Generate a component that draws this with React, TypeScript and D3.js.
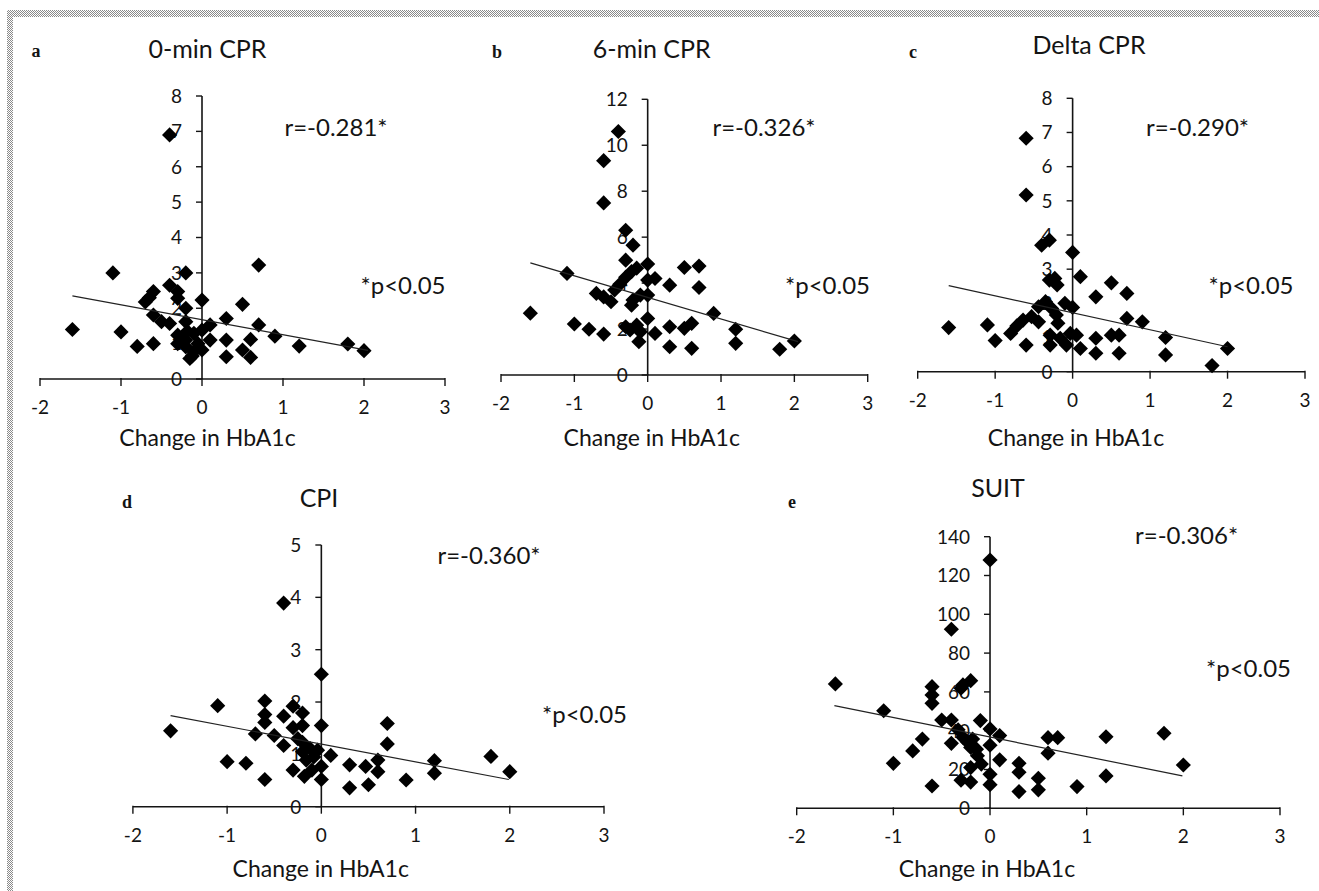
import React from 'react';
import * as d3 from 'd3';

// ---------- data ----------
const xTickValues = [-2, -1, 0, 1, 2, 3];
const xAxisTitle = 'Change in HbA1c';
const panelLetters = ['a', 'b', 'c', 'd', 'e'];
const panelTitles = ['0-min CPR', '6-min CPR', 'Delta CPR', 'CPI', 'SUIT'];
const rLabels = ['r=-0.281*', 'r=-0.326*', 'r=-0.290*', 'r=-0.360*', 'r=-0.306*'];
const pLabel = '*p<0.05';
const yMaxes = [8, 12, 8, 5, 140];
const ySteps = [1, 2, 1, 1, 20];

// panel a: 0-min CPR
const cpr0X = [-1.6, -1.1, -1.0, -0.8, -0.6, -0.6, -0.7, -0.6, -0.5, -0.4, -0.4, -0.4, -0.3, -0.3, -0.2, -0.2, -0.2, -0.3, -0.1, 0, 0, 0.1, 0.1, 0.3, 0.3, 0.3, 0.5, 0.5, 0.6, 0.6, 0.7, 0.7, 0.9, 1.2, 1.8, 2.0, -0.2, -0.1, -0.15, 0, -0.05, -0.2, -0.3, -0.65, -0.12, -0.18];
const cpr0Y = [1.4, 3.0, 1.33, 0.92, 1.0, 2.47, 2.18, 1.81, 1.62, 1.57, 2.65, 6.9, 2.47, 2.28, 3.0, 2.0, 1.62, 1.24, 1.29, 1.38, 2.23, 1.53, 1.1, 1.71, 1.1, 0.63, 2.11, 0.82, 1.12, 0.61, 1.53, 3.22, 1.21, 0.93, 0.99, 0.8, 0.91, 0.77, 0.58, 0.82, 1.0, 1.1, 1.0, 2.3, 0.65, 1.35];
const cpr0Trend = [[-1.6, 2.35], [2.05, 0.81]];

// panel b: 6-min CPR
const cpr6X = [-1.6, -1.1, -1.0, -0.8, -0.6, -0.6, -0.6, -0.4, -0.3, -0.2, -0.3, -0.7, -0.6, -0.5, -0.45, -0.38, -0.3, -0.22, -0.15, -0.2, -0.1, 0, -0.22, 0, 0.1, 0, 0.3, 0.5, 0.7, 0.7, 0.9, 1.2, 1.2, 1.8, 2.0, -0.3, -0.15, 0, -0.1, 0.1, -0.12, -0.24, 0.3, 0.5, 0.6, 0.3, 0.6];
const cpr6Y = [2.69, 4.42, 2.22, 1.99, 1.78, 9.33, 7.49, 10.6, 6.3, 5.65, 5.0, 3.55, 3.4, 3.19, 3.7, 3.95, 4.25, 4.5, 4.65, 3.26, 3.48, 3.48, 3.04, 4.83, 4.2, 4.13, 3.91, 4.68, 4.74, 3.81, 2.68, 1.99, 1.38, 1.12, 1.48, 2.1, 2.17, 2.46, 1.88, 1.81, 1.45, 1.96, 2.1, 2.03, 2.25, 1.23, 1.16];
const cpr6Trend = [[-1.6, 4.88], [2.05, 1.45]];

// panel c: Delta CPR
const dcprX = [-1.6, -1.1, -1.0, -0.8, -0.6, -0.6, -0.6, -0.4, -0.3, 0, 0.1, -0.3, -0.2, -0.23, 0.5, 0.7, 0.3, -0.35, -0.1, 0, -0.44, -0.27, -0.64, -0.72, -0.53, -0.44, -0.21, -0.19, 0.7, 0.9, -0.29, -0.29, -0.16, -0.08, -0.03, 0.05, 0.1, 0.3, 0.3, 0.5, 0.6, 0.6, 1.2, 1.2, 1.8, 2.0];
const dcprY = [1.29, 1.37, 0.91, 1.12, 0.78, 6.83, 5.17, 3.7, 3.85, 3.49, 2.78, 2.68, 2.54, 2.73, 2.6, 2.29, 2.19, 2.05, 2.0, 1.88, 1.9, 1.85, 1.51, 1.34, 1.61, 1.46, 1.66, 1.42, 1.56, 1.46, 0.78, 1.07, 0.98, 0.78, 1.12, 1.07, 0.68, 0.98, 0.54, 1.07, 1.07, 0.54, 1.0, 0.49, 0.18, 0.68];
const dcprTrend = [[-1.6, 2.52], [2.0, 0.73]];

// panel d: CPI
const cpiX = [-1.6, -1.1, -1.0, -0.8, -0.6, -0.6, -0.6, -0.6, -0.7, -0.5, -0.4, -0.4, -0.4, -0.3, -0.2, -0.3, -0.2, -0.2, 0, 0, 0, 0, -0.3, -0.18, -0.1, -0.16, -0.12, -0.2, -0.04, 0.1, 0.3, 0.3, 0.5, 0.47, 0.6, 0.6, 0.7, 0.7, 0.9, 1.2, 1.2, 1.8, 2.0, -0.25, -0.08];
const cpiY = [1.45, 1.93, 0.86, 0.83, 0.52, 2.02, 1.76, 1.61, 1.39, 1.36, 3.89, 1.73, 1.17, 1.92, 1.79, 1.51, 1.55, 1.23, 2.53, 1.55, 0.77, 0.52, 0.7, 0.58, 0.7, 0.89, 1.11, 1.05, 1.08, 0.98, 0.8, 0.36, 0.42, 0.77, 0.89, 0.67, 1.59, 1.2, 0.51, 0.88, 0.64, 0.96, 0.67, 1.3, 0.95];
const cpiTrend = [[-1.6, 1.74], [1.99, 0.52]];

// panel e: SUIT
const suitX = [-1.6, -1.1, -1.0, -0.8, -0.7, -0.6, -0.6, -0.6, -0.6, -0.5, -0.4, -0.4, -0.4, -0.3, -0.28, -0.2, -0.33, -0.28, -0.23, -0.18, -0.14, -0.1, 0, 0.1, 0, -0.2, -0.13, -0.09, -0.2, -0.3, -0.2, 0, 0, 0, 0.1, 0.3, 0.3, 0.3, 0.5, 0.5, 0.6, 0.6, 0.7, 0.9, 1.2, 1.2, 1.8, 2.0];
const suitY = [64.1, 50.3, 23.2, 29.6, 35.7, 11.5, 62.7, 58.4, 54.1, 45.5, 92.3, 45.5, 33.5, 61.9, 63.6, 65.8, 40.5, 36.6, 34.0, 35.7, 30.5, 45.2, 40.9, 37.5, 32.5, 31.4, 27.1, 22.8, 21.0, 14.5, 13.5, 17.5, 12.2, 128, 25.0, 23.2, 18.6, 8.6, 15.5, 9.5, 36.4, 28.4, 36.4, 11.2, 36.9, 16.7, 38.7, 22.3];
const suitTrend = [[-1.61, 52.9], [1.99, 16.7]];

const seriesX = [cpr0X, cpr6X, dcprX, cpiX, suitX];
const seriesY = [cpr0Y, cpr6Y, dcprY, cpiY, suitY];
const trends = [cpr0Trend, cpr6Trend, dcprTrend, cpiTrend, suitTrend];

// ---------- layout ----------
const layout = [
  { x0: 40, x1: 445, yB: 379, yT: 96, tX: 207.5, tY: 58, lX: 36, lY: 57, rX: 336, rY: 136, pX: 403, pY: 294, xtX: 207.5, xtY: 446 },
  { x0: 501, x1: 867.7, yB: 375, yT: 99.3, tX: 651.7, tY: 58, lX: 497, lY: 58, rX: 764, rY: 136, pX: 827.5, pY: 294, xtX: 651.7, xtY: 446 },
  { x0: 917.7, x1: 1305, yB: 371.7, yT: 98.3, tX: 1089, tY: 54, lX: 913, lY: 58, rX: 1197.5, rY: 136, pX: 1251, pY: 294, xtX: 1076, xtY: 446 },
  { x0: 132.9, x1: 604, yB: 806.7, yT: 545, tX: 319, tY: 507, lX: 127, lY: 508, rX: 489, rY: 564, pX: 584.5, pY: 723, xtX: 320.7, xtY: 877 },
  { x0: 796.7, x1: 1280, yB: 808.3, yT: 536.7, tX: 998, tY: 497, lX: 792, lY: 508, rX: 1186.6, rY: 544, pX: 1248.5, pY: 677, xtX: 987, xtY: 877 },
];

const FONT = 'Lato, "Open Sans", sans-serif';
const INK = '#141414';

const diamond = d3.symbol().type(d3.symbolSquare).size(115)();

function Panel({ i }: { i: number }) {
  const L = layout[i];
  const x = d3.scaleLinear().domain([-2, 3]).range([L.x0, L.x1]);
  const y = d3.scaleLinear().domain([0, yMaxes[i]]).range([L.yB, L.yT]);
  const yTicks = d3.range(0, yMaxes[i] + ySteps[i] / 2, ySteps[i]);
  const ax = x(0);
  const ay = y(0);
  const line = d3.line<number[]>().x((d) => x(d[0])).y((d) => y(d[1]));
  const pts = seriesX[i].map((v, k) => [v, seriesY[i][k]]);
  return (
    <g>
      <text x={L.lX} y={L.lY} fontFamily='"Liberation Serif", serif' fontWeight="bold" fontSize={18} fill={INK} textAnchor="middle">{panelLetters[i]}</text>
      <text x={L.tX} y={L.tY} fontFamily={FONT} fontSize={25} fill={INK} textAnchor="middle">{panelTitles[i]}</text>
      {/* axes */}
      <line x1={x(-2)} x2={x(3)} y1={ay} y2={ay} stroke={INK} strokeWidth={1.6} />
      {xTickValues.map((t) => (
        <g key={'xt' + t}>
          <line x1={x(t)} x2={x(t)} y1={ay - 1} y2={ay + 7} stroke={INK} strokeWidth={1.4} />
          <text x={x(t)} y={ay + 35} fontFamily={FONT} fontSize={19} fill={INK} textAnchor="middle">{t < 0 ? '-' + Math.abs(t) : String(t)}</text>
        </g>
      ))}
      <line x1={ax} x2={ax} y1={ay} y2={y(yMaxes[i])} stroke={INK} strokeWidth={1.6} />
      {yTicks.map((t) => (
        <g key={'yt' + t}>
          <line x1={ax - 6} x2={ax} y1={y(t)} y2={y(t)} stroke={INK} strokeWidth={1.4} />
          <text x={ax - 20} y={y(t)} dy="0.36em" fontFamily={FONT} fontSize={19} fill={INK} textAnchor="end">{String(t)}</text>
        </g>
      ))}
      {/* points */}
      {pts.map((p, k) => (
        <path key={k} d={diamond} transform={`translate(${x(p[0])},${y(p[1])}) rotate(45)`} fill="#000" />
      ))}
      {/* trend line */}
      <path d={line(trends[i]) || ''} stroke="#222" strokeWidth={1.2} fill="none" />
      <text x={L.rX} y={L.rY} fontFamily={FONT} fontSize={24} fill={INK} textAnchor="middle">{rLabels[i]}</text>
      <text x={L.pX} y={L.pY} fontFamily={FONT} fontSize={24} fill={INK} textAnchor="middle">{pLabel}</text>
      <text x={L.xtX} y={L.xtY} fontFamily={FONT} fontSize={23} fill={INK} textAnchor="middle">{xAxisTitle}</text>
    </g>
  );
}

export default function App() {
  return (
    <div style={{ position: 'absolute', left: 0, top: 0 }}>
      <svg width={1319} height={891} style={{ display: 'block', background: '#fff' }}>
        <defs>
          <pattern id="chk" width={2} height={2} patternUnits="userSpaceOnUse">
            <rect width={2} height={2} fill="#fff" />
            <rect width={1} height={1} fill="#8a8a8a" />
            <rect x={1} y={1} width={1} height={1} fill="#8a8a8a" />
          </pattern>
        </defs>
        <rect x={7} y={10} width={1312} height={7} fill="url(#chk)" shapeRendering="crispEdges" />
        <rect x={7} y={10} width={6} height={881} fill="url(#chk)" shapeRendering="crispEdges" />
        {[0, 1, 2, 3, 4].map((i) => (
          <Panel key={i} i={i} />
        ))}
      </svg>
    </div>
  );
}
